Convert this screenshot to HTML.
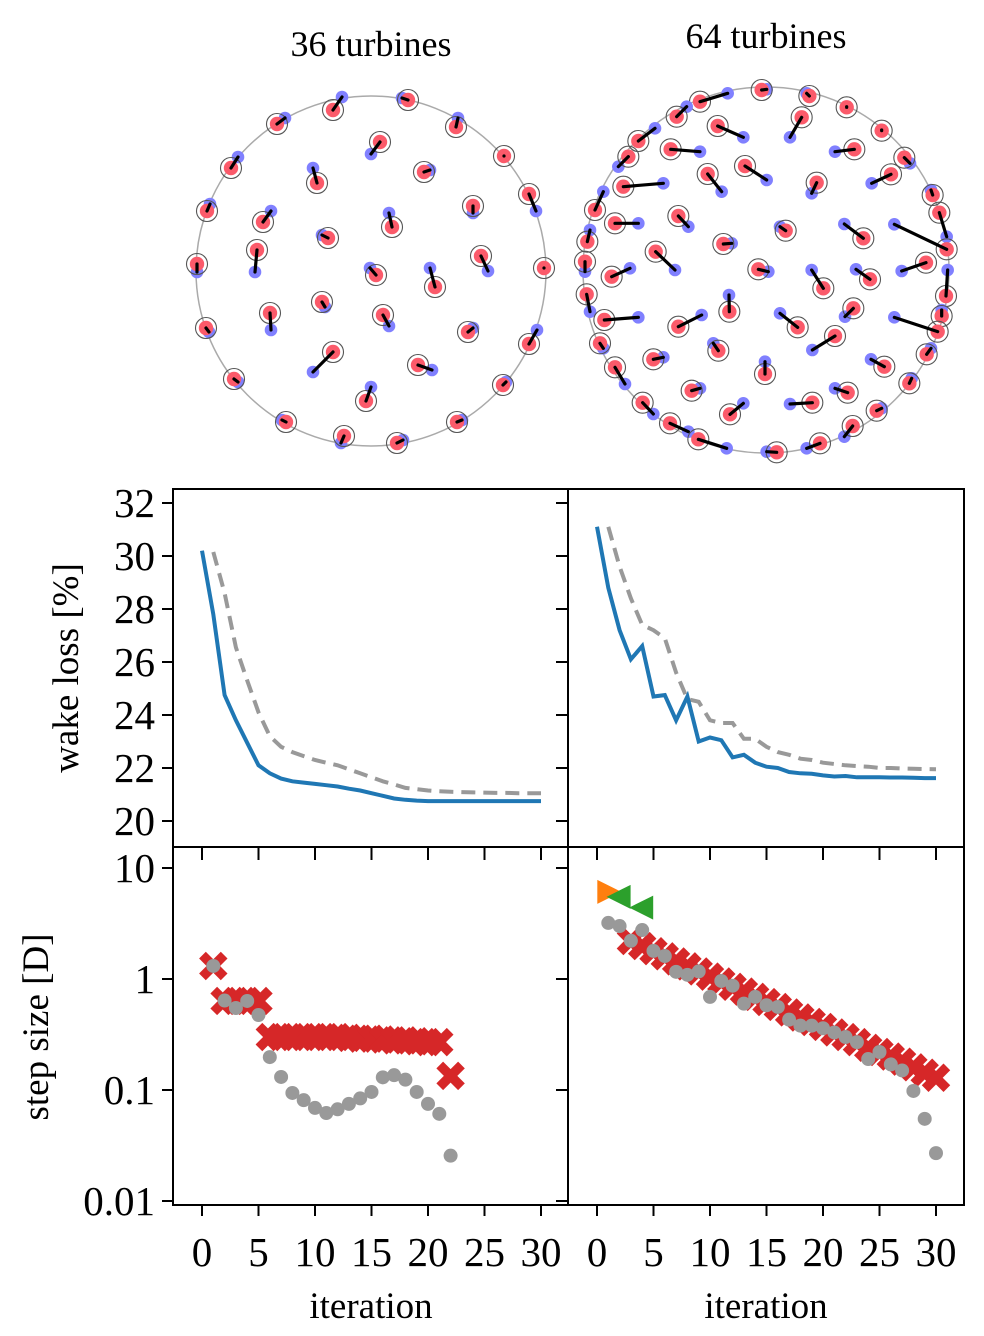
<!DOCTYPE html>
<html><head><meta charset="utf-8"><style>
html,body{margin:0;padding:0;background:#fff}
svg{display:block;font-family:"Liberation Serif","DejaVu Serif",serif}
</style></head><body>
<svg id="fig" width="984" height="1336" viewBox="0 0 984 1336" xmlns="http://www.w3.org/2000/svg">
<text x="371" y="56" font-size="36" text-anchor="middle">36 turbines</text>
<text x="766" y="48" font-size="36" text-anchor="middle">64 turbines</text>
<circle cx="371" cy="271" r="175" fill="none" stroke="#aaa" stroke-width="1.5"/>
<circle cx="766" cy="270" r="183" fill="none" stroke="#aaa" stroke-width="1.5"/>
<g id="lay36"></g>
<g id="lay64"></g>
<g id="plots"></g>
<text transform="translate(78,668) rotate(-90)" font-size="37" text-anchor="middle">wake loss [%]</text>
<text transform="translate(48,1027) rotate(-90)" font-size="37" text-anchor="middle">step size [D]</text>
<text x="371" y="1318" font-size="37" text-anchor="middle">iteration</text>
<text x="766" y="1318" font-size="37" text-anchor="middle">iteration</text>
</svg>
<script>
const NS="http://www.w3.org/2000/svg";
const lay36Final=[[333,110],[408,100],[277,124],[456,127],[380,142],[504,156],[231,168],[424,172],[317,183],[529,194],[473,206],[207,211],[263,222],[392,227],[328,238],[257,250],[481,256],[197,264],[544,268],[376,275],[435,287],[322,302],[270,313],[383,315],[206,328],[468,332],[529,344],[333,352],[418,365],[234,379],[503,385],[366,401],[286,422],[457,422],[344,436],[397,443]];
const lay36Init=[[342,97],[402,98],[285,118],[458,118],[371,154],[504,156],[238,157],[430,170],[313,168],[536,211],[473,213],[210,204],[271,211],[389,213],[322,235],[255,272],[488,271],[197,272],[544,268],[370,268],[430,268],[325,307],[271,330],[389,326],[209,332],[473,328],[537,330],[313,372],[432,370],[238,382],[506,382],[371,387],[282,420],[462,420],[341,443],[403,440]];
const lay64Final=[[560,30],[703,48],[815,82],[375,65],[305,110],[680,112],[428,138],[920,152],[190,183],[287,208],[838,208],[988,233],[160,230],[510,258],[398,282],[948,283],[725,308],[145,320],[1073,345],[60,390],[1093,398],[310,408],[120,430],[632,452],[865,475],[445,492],[37,485],[1115,508],[242,515],[30,545],[1053,548],[550,568],[110,590],[885,598],[745,625],[1113,648],[35,643],[463,695],[835,685],[88,720],[1100,708],[310,740],[668,742],[1088,755],[780,768],[75,790],[430,812],[235,838],[1055,823],[928,860],[120,862],[570,882],[350,932],[1003,910],[818,938],[712,968],[203,968],[905,992],[465,1003],[285,1030],[833,1038],[370,1078],[735,1090],[605,1117]];
const lay64Init=[[575,28],[695,40],[815,80],[458,40],[335,80],[645,172],[505,172],[920,150],[240,145],[375,215],[780,215],[1005,250],[130,260],[575,300],[440,335],[890,310],[710,340],[265,310],[1068,330],[85,335],[1115,470],[340,440],[190,430],[615,440],[808,432],[470,490],[45,450],[958,433],[300,570],[30,575],[980,573],[580,575],[165,565],[843,568],[710,570],[1118,570],[45,695],[462,645],[810,710],[190,712],[1100,690],[380,705],[615,700],[958,712],[712,810],[85,805],[415,790],[265,832],[1068,805],[888,838],[150,912],[570,845],[375,925],[1010,895],[780,925],[645,972],[235,1002],[920,985],[505,970],[340,1055],[808,1070],[455,1105],[695,1105],[575,1115]];

const iters=[0,1,2,3,4,5,6,7,8,9,10,11,12,13,14,15,16,17,18,19,20,21,22,23,24,25,26,27,28,29,30];
const wl36Opt=[30.2,27.8,24.75,23.8,22.95,22.1,21.8,21.6,21.5,21.45,21.4,21.35,21.3,21.22,21.15,21.05,20.95,20.85,20.8,20.77,20.75,20.75,20.75,20.75,20.75,20.75,20.75,20.75,20.75,20.75,20.75];
const wl36Ref=[null,30.15,28.6,26.55,25.3,24.1,23.2,22.8,22.6,22.45,22.3,22.2,22.1,21.95,21.8,21.65,21.5,21.38,21.25,21.2,21.15,21.12,21.1,21.09,21.08,21.07,21.06,21.06,21.05,21.05,21.05];
const wl64Opt=[31.1,28.8,27.2,26.1,26.6,24.7,24.75,23.8,24.7,23.0,23.15,23.05,22.4,22.5,22.2,22.05,22.0,21.85,21.8,21.78,21.72,21.68,21.7,21.65,21.65,21.65,21.64,21.64,21.63,21.62,21.62];
const wl64Ref=[null,31.1,29.6,28.4,27.4,27.2,26.9,25.6,24.6,24.5,23.8,23.7,23.7,23.1,23.1,22.8,22.6,22.5,22.35,22.3,22.2,22.15,22.1,22.07,22.05,22.0,22.0,21.98,21.97,21.96,21.95];
const wlTicks=[20,22,24,26,28,30,32];
const stepIters36=[1,2,3,4,5,6,7,8,9,10,11,12,13,14,15,16,17,18,19,20,21,22];
const step36Red=[1.31,0.634,0.634,0.634,0.634,0.30,0.30,0.30,0.30,0.30,0.30,0.30,0.295,0.29,0.29,0.285,0.28,0.28,0.275,0.27,0.27,0.134];
const step36Gray=[1.31,0.64,0.548,0.634,0.474,0.198,0.131,0.094,0.081,0.069,0.062,0.067,0.075,0.084,0.096,0.13,0.136,0.124,0.096,0.075,0.061,0.0256];
const stepIters64Red=[3,4,5,6,7,8,9,10,11,12,13,14,15,16,17,18,19,20,21,22,23,24,25,26,27,28,29,30];
const step64Red=[2.2,1.98,1.78,1.6,1.44,1.3,1.17,1.05,0.95,0.85,0.77,0.69,0.62,0.56,0.5,0.45,0.41,0.37,0.33,0.3,0.27,0.24,0.22,0.2,0.18,0.16,0.143,0.129];
const stepIters64Gray=[1,2,3,4,5,6,7,8,9,10,11,12,13,14,15,16,17,18,19,20,21,22,23,24,25,26,27,28,29,30];
const step64Gray=[3.2,3.0,2.21,2.76,1.79,1.61,1.16,1.09,1.17,0.69,0.96,0.87,0.6,0.69,0.58,0.56,0.43,0.38,0.38,0.36,0.33,0.30,0.27,0.19,0.22,0.17,0.15,0.098,0.055,0.027];
const step64OrangeIter=[1];
const step64Orange=[6.1];
const step64GreenIter=[2,4];
const step64Green=[5.5,4.4];
const stepTicks=[10,1,0.1,0.01];
const stepTickLabels=["10","1","0.1","0.01"];
const xTicks=[0,5,10,15,20,25,30];

function mk(tag,attrs,parent){const e=document.createElementNS(NS,tag);for(const k in attrs)e.setAttribute(k,attrs[k]);(parent||document.getElementById('plots')).appendChild(e);return e;}

function drawLayout(gid,fin,ini,tf){
  const g=document.getElementById(gid);
  for(let i=0;i<fin.length;i++){
    const [fx,fy]=tf(fin[i]);const [ix,iy]=tf(ini[i]);
    const b=mk('circle',{cx:ix,cy:iy,r:6.3,fill:'#8080ff'},g);
    
    
    const r=mk('circle',{cx:fx,cy:fy,r:10.5,fill:'none',stroke:'#555',"stroke-width":1.1},g);
    
    
    const d=mk('circle',{cx:fx,cy:fy,r:7.2,fill:'#fb5a6a'},g);
    
    
    const l=mk('line',{x1:ix,y1:iy,x2:fx,y2:fy,stroke:'#000',"stroke-width":3.2,"stroke-linecap":"round"},g);
    
    
  }
}
drawLayout('lay36',lay36Final,lay36Init,p=>[p[0],p[1]]);
drawLayout('lay64',lay64Final,lay64Init,p=>[575+p[0]/3,80+p[1]/3]);

const P={L:173,M:568,R:964,T:489,H:847,B:1205};
const xL=i=>202+i*11.3, xR=i=>597+i*11.3;
const yW=v=>821-(v-20)*26.5;
const yS=v=>979-Math.log10(v)*111;

function line(xs,vals,xf,yf,attrs,name){
  let d='';vals.forEach((v,i)=>{if(v==null)return;d+=(d?'L':'M')+xf(xs[i]).toFixed(1)+','+yf(v).toFixed(1);});
  const p=mk('path',Object.assign({d:d,fill:'none'},attrs));
  
  
}
line(iters,wl36Ref,xL,yW,{stroke:'#999',"stroke-width":4,"stroke-dasharray":"14,8"},'reference-line-36');
line(iters,wl36Opt,xL,yW,{stroke:'#1f77b4',"stroke-width":4},'optimized-line-36');
line(iters,wl64Ref,xR,yW,{stroke:'#999',"stroke-width":4,"stroke-dasharray":"14,8"},'reference-line-64');
line(iters,wl64Opt,xR,yW,{stroke:'#1f77b4',"stroke-width":4},'optimized-line-64');

function xmark(cx,cy){
  const g=mk('g',{stroke:'#d62728',"stroke-width":9.5,"stroke-linecap":"square"});
  
  
  mk('line',{x1:cx-7.5,y1:cy-7.5,x2:cx+7.5,y2:cy+7.5},g);
  mk('line',{x1:cx-7.5,y1:cy+7.5,x2:cx+7.5,y2:cy-7.5},g);
}
function dot(cx,cy){const c=mk('circle',{cx:cx,cy:cy,r:7,fill:'#999'});
  
  }
stepIters36.forEach((it,i)=>xmark(xL(it),yS(step36Red[i])));
stepIters36.forEach((it,i)=>dot(xL(it),yS(step36Gray[i])));
stepIters64Red.forEach((it,i)=>xmark(xR(it),yS(step64Red[i])));
stepIters64Gray.forEach((it,i)=>dot(xR(it),yS(step64Gray[i])));
step64OrangeIter.forEach((it,i)=>{const x=xR(it),y=yS(step64Orange[i]);
  const t=mk('polygon',{points:`${x-11},${y-12} ${x+13},${y} ${x-11},${y+12}`,fill:'#ff7f0e'});
  
  });
step64GreenIter.forEach((it,i)=>{const x=xR(it),y=yS(step64Green[i]);
  const t=mk('polygon',{points:`${x+11},${y-12} ${x-13},${y} ${x+11},${y+12}`,fill:'#2ca02c'});
  
  });

[[P.L,P.T,P.M-P.L,P.H-P.T,'frame-wake-36'],[P.M,P.T,P.R-P.M,P.H-P.T,'frame-wake-64'],[P.L,P.H,P.M-P.L,P.B-P.H,'frame-step-36'],[P.M,P.H,P.R-P.M,P.B-P.H,'frame-step-64']].forEach(f=>{
  const r=mk('rect',{x:f[0],y:f[1],width:f[2],height:f[3],fill:'none',stroke:'#000',"stroke-width":2});
  
  
});
function tick(x1,y1,x2,y2){const t=mk('line',{x1:x1,y1:y1,x2:x2,y2:y2,stroke:'#000',"stroke-width":2});
  
  }
function label(x,y,s,anchor,name){const t=mk('text',{x:x,y:y,"font-size":41,"text-anchor":anchor});t.textContent=s;
  
  }
wlTicks.forEach(v=>{const y=yW(v);tick(P.L-11,y,P.L,y);tick(P.M-12,y,P.M,y);label(P.L-18,y+14,String(v),'end','y-tick-label-wake');});
stepTicks.forEach((v,i)=>{const y=yS(v);tick(P.L-11,y,P.L,y);tick(P.M-12,y,P.M,y);label(P.L-18,y+14,stepTickLabels[i],'end','y-tick-label-step');});
xTicks.forEach(v=>{
  [xL,xR].forEach((f,k)=>{const x=f(v);
    tick(x,P.H,x,P.H+13);tick(x,P.B,x,P.B+11);
    label(x,1266,String(v),'middle','x-tick-label');});
});
</script>
</body></html>
